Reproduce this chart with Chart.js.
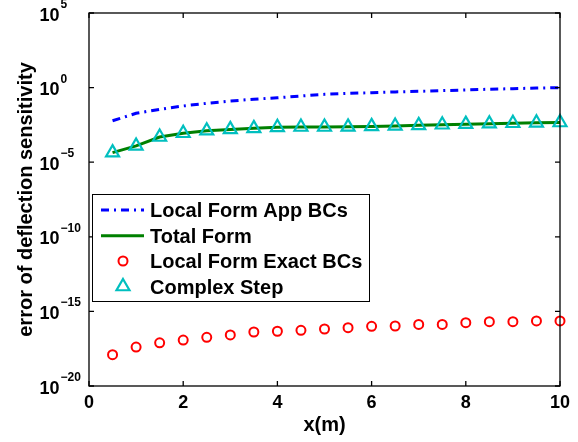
<!DOCTYPE html>
<html>
<head>
<meta charset="utf-8">
<script src="https://cdn.jsdelivr.net/npm/chart.js@4/dist/chart.umd.min.js"></script>
<style>
  html, body { margin: 0; padding: 0; background: #fff; }
  canvas { display: block; }
</style>
</head>
<body>
<canvas id="grafica" width="578" height="442"></canvas>
<script>
// posiciones a lo largo de la viga (m)
const posiciones = [0.5, 1, 1.5, 2, 2.5, 3, 3.5, 4, 4.5, 5, 5.5, 6, 6.5, 7, 7.5, 8, 8.5, 9, 9.5, 10];

// error de la sensibilidad de la deflexion para cada metodo
const localAprox = [6.0e-3, 1.9e-2, 3.5e-2, 5.9e-2, 8.9e-2, 0.126, 0.166, 0.209, 0.275, 0.355,
                    0.407, 0.457, 0.513, 0.562, 0.631, 0.692, 0.776, 0.851, 0.933, 1.0];
const formaTotal = [4.4e-5, 1.23e-4, 4.9e-4, 8.7e-4, 1.29e-3, 1.58e-3, 1.86e-3, 2.19e-3, 2.29e-3, 2.29e-3,
                    2.34e-3, 2.51e-3, 2.69e-3, 2.95e-3, 3.24e-3, 3.55e-3, 3.80e-3, 4.07e-3, 4.37e-3, 4.57e-3];
const localExacta = [1.26e-18, 4.1e-18, 7.9e-18, 1.2e-17, 1.82e-17, 2.63e-17, 4.17e-17, 4.68e-17, 5.37e-17, 6.6e-17,
                     8.1e-17, 1.0e-16, 1.05e-16, 1.35e-16, 1.35e-16, 1.74e-16, 2.04e-16, 2.04e-16, 2.29e-16, 2.29e-16];
const pasoComplejo = [4.4e-5, 1.23e-4, 4.9e-4, 8.7e-4, 1.29e-3, 1.58e-3, 1.86e-3, 2.19e-3, 2.29e-3, 2.29e-3,
                      2.34e-3, 2.51e-3, 2.69e-3, 2.95e-3, 3.24e-3, 3.55e-3, 3.80e-3, 4.07e-3, 4.37e-3, 4.57e-3];

const nombres = ['Local Form App BCs', 'Total Form', 'Local Form Exact BCs', 'Complex Step'];
const ticksX = [0, 2, 4, 6, 8, 10];
const exponentesY = [5, 0, -5, -10, -15, -20];

const fuente = "'Liberation Sans', Arial, Helvetica, sans-serif";

function puntos(valores) {
  return posiciones.map((x, i) => ({ x: x, y: valores[i] }));
}

// caja, marcas hacia dentro, etiquetas 10^n y leyenda
const ejesMatlab = {
  id: 'ejesMatlab',
  afterDatasetsDraw(chart) {
    const ctx = chart.ctx;
    const a = chart.chartArea;
    const sx = chart.scales.x, sy = chart.scales.y;
    ctx.save();
    ctx.strokeStyle = '#000';
    ctx.lineWidth = 1.3;
    ctx.strokeRect(a.left, a.top, a.right - a.left, a.bottom - a.top);
    ctx.beginPath();
    ticksX.forEach(t => {
      const px = sx.getPixelForValue(t);
      ctx.moveTo(px, a.bottom); ctx.lineTo(px, a.bottom - 5);
      ctx.moveTo(px, a.top); ctx.lineTo(px, a.top + 5);
    });
    exponentesY.forEach(e => {
      const py = sy.getPixelForValue(Math.pow(10, e));
      ctx.moveTo(a.left, py); ctx.lineTo(a.left + 5, py);
      ctx.moveTo(a.right, py); ctx.lineTo(a.right - 5, py);
    });
    ctx.stroke();

    // etiquetas del eje y con exponente
    ctx.fillStyle = '#000';
    ctx.textBaseline = 'alphabetic';
    exponentesY.forEach(e => {
      const py = sy.getPixelForValue(Math.pow(10, e));
      ctx.font = 'bold 18px ' + fuente;
      ctx.textAlign = 'right';
      ctx.fillText('10', 59.5, py + 7.5);
      ctx.font = 'bold 12px ' + fuente;
      ctx.textAlign = 'left';
      const txt = e < 0 ? '\u2212' + (-e) : String(e);
      ctx.fillText(txt, 60.5, py - 5);
    });

    // leyenda
    const caja = { x: 92, y: 194, w: 277, h: 107 };
    ctx.fillStyle = '#fff';
    ctx.fillRect(caja.x, caja.y, caja.w, caja.h);
    ctx.lineWidth = 1;
    ctx.strokeStyle = '#000';
    ctx.strokeRect(caja.x + 0.5, caja.y + 0.5, caja.w, caja.h);
    const filas = [210, 235.7, 261, 286.5];
    chart.data.datasets.forEach((ds, i) => {
      const cy = filas[i];
      ctx.save();
      if (ds.showLine !== false) {
        ctx.strokeStyle = ds.borderColor;
        ctx.lineWidth = ds.borderWidth;
        ctx.setLineDash(ds.borderDash || []);
        ctx.beginPath();
        ctx.moveTo(101, cy); ctx.lineTo(144, cy);
        ctx.stroke();
      } else {
        ctx.fillStyle = 'rgba(0,0,0,0)';
        ctx.strokeStyle = ds.pointBorderColor;
        ctx.lineWidth = ds.pointBorderWidth;
        Chart.helpers.drawPoint(ctx, {
          pointStyle: ds.pointStyle,
          radius: ds.pointRadius,
          borderWidth: ds.pointBorderWidth
        }, 123, cy);
      }
      ctx.restore();
      ctx.fillStyle = '#000';
      ctx.font = 'bold 20px ' + fuente;
      ctx.textAlign = 'left';
      ctx.fillText(ds.label, 150, cy + 7.2);
    });
    ctx.restore();
  }
};

new Chart(document.getElementById('grafica'), {
  type: 'scatter',
  data: {
    datasets: [
      {
        label: nombres[0], data: puntos(localAprox), showLine: true,
        borderColor: '#0000ff', borderWidth: 3, borderDash: [8, 5, 2, 5],
        pointRadius: 0, order: 3
      },
      {
        label: nombres[1], data: puntos(formaTotal), showLine: true,
        borderColor: '#008000', borderWidth: 3,
        pointRadius: 0, order: 2
      },
      {
        label: nombres[2], data: puntos(localExacta), showLine: false,
        pointStyle: 'circle', pointRadius: 4.5, pointBorderWidth: 2,
        pointBorderColor: '#ff0000', pointBackgroundColor: 'rgba(0,0,0,0)', order: 1
      },
      {
        label: nombres[3], data: puntos(pasoComplejo), showLine: false,
        pointStyle: 'triangle', pointRadius: 7.5, pointBorderWidth: 2.2,
        pointBorderColor: '#00bfbf', pointBackgroundColor: 'rgba(0,0,0,0)', order: 0
      }
    ]
  },
  options: {
    responsive: false,
    devicePixelRatio: 1,
    animation: false,
    clip: false,
    layout: { padding: { top: 13, right: 18, bottom: 0, left: 0 } },
    plugins: { legend: { display: false }, tooltip: { enabled: false } },
    scales: {
      x: {
        type: 'linear', min: 0, max: 10,
        afterBuildTicks: s => { s.ticks = ticksX.map(v => ({ value: v })); },
        afterFit: s => { s.height = 56; },
        grid: { display: false, drawTicks: false },
        border: { display: false },
        ticks: { color: '#000', padding: 6, maxRotation: 0, font: { family: fuente, size: 18, weight: 'bold' } },
        title: {
          display: true, text: 'x(m)', color: '#000',
          padding: { top: 0, bottom: 5 },
          font: { family: fuente, size: 20, weight: 'bold' }
        }
      },
      y: {
        type: 'logarithmic', min: 1e-20, max: 1e5,
        afterFit: s => { s.width = 89; },
        grid: { display: false, drawTicks: false },
        border: { display: false },
        ticks: { display: false },
        title: {
          display: true, text: 'error of deflection sensitivity', color: '#000',
          padding: { top: 14, bottom: 0 },
          font: { family: fuente, size: 20, weight: 'bold' }
        }
      }
    }
  },
  plugins: [ejesMatlab]
});
</script>
</body>
</html>
